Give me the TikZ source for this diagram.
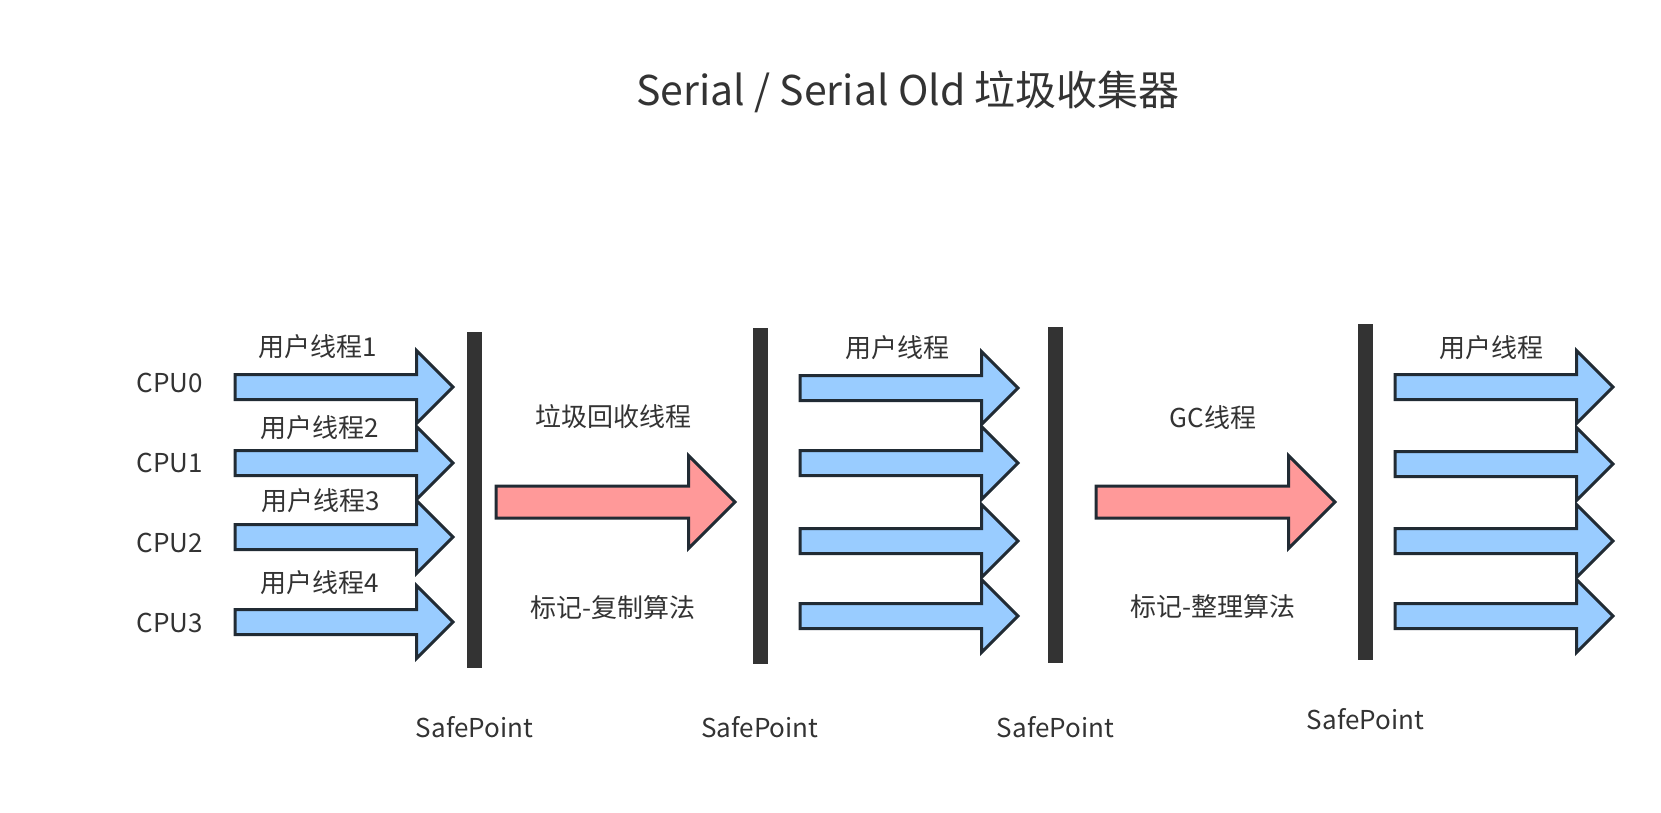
\documentclass[tikz,border=0pt]{standalone}
\usepackage{fontspec}
\setmainfont{Noto Sans CJK SC}
\usetikzlibrary{positioning,shapes.arrows}
\definecolor{threadblue}{HTML}{99CCFF}
\definecolor{gcred}{HTML}{FF9999}
\definecolor{rim}{HTML}{212B34}
\definecolor{ink}{HTML}{333333}
\tikzset{
  thread/.style={single arrow, draw=rim, fill=threadblue, line width=1.5pt,
    inner xsep=0pt, inner ysep=5.5pt, minimum height=109pt, single arrow head extend=12pt,
    single arrow head indent=0pt, anchor=tail},
  gcthread/.style={thread, fill=gcred, minimum height=119.5pt, inner ysep=7.25pt,
    single arrow head extend=15.25pt},
  spbar/.style={fill=ink, minimum width=7.5pt, minimum height=168pt, inner sep=0pt},
  lbl/.style={text=ink, font=\fontsize{13pt}{15pt}\selectfont, inner sep=0pt},
}

\begin{document}
\begin{tikzpicture}[x=0.5pt, y=-0.5pt, node distance=24pt]
  \useasboundingbox (0,0) rectangle (1661,813);
  \node[lbl, font=\fontsize{20.5pt}{24pt}\selectfont] (title) at (908,92) {Serial / Serial Old 垃圾收集器};

  % safepoints
  \node[spbar] (sp1) at (474.5,500) {};
  \node[spbar] (sp2) at (760,495.5) {};
  \node[spbar] (sp3) at (1055.5,494.5) {};
  \node[spbar] (sp4) at (1365.5,491.5) {};
  \node[lbl, below=of sp1] (spl1) {SafePoint};
  \node[lbl, below=26pt of sp2] (spl2) {SafePoint};
  \node[lbl, below=26.5pt of sp3] (spl3) {SafePoint};
  \node[lbl, below=of sp4] (spl4) {SafePoint};

  % user threads before GC
  \node[thread] (ut0) at (233.5,387) {};
  \node[thread] (ut1) at (233.5,463) {};
  \node[thread] (ut2) at (233.5,537) {};
  \node[thread] (ut3) at (233.5,622) {};
  \node[lbl] (cpu0) at (170,383) {CPU0};
  \node[lbl] (cpu1) at (170,463) {CPU1};
  \node[lbl] (cpu2) at (170,543) {CPU2};
  \node[lbl] (cpu3) at (170,623) {CPU3};
  \node[lbl] (utl0) at (318,347) {用户线程1};
  \node[lbl] (utl1) at (320,428) {用户线程2};
  \node[lbl] (utl2) at (321,501) {用户线程3};
  \node[lbl] (utl3) at (320,583) {用户线程4};

  % young gen collection
  \node[gcthread] (gc1) at (494.5,502) {};
  \node[lbl] (gcl1) at (613,417) {垃圾回收线程};
  \node[lbl] (alg1) at (613,608) {标记-复制算法};

  % user threads between
  \node[thread] (mt0) at (798.5,388) {};
  \node[thread] (mt1) at (798.5,463) {};
  \node[thread] (mt2) at (798.5,541) {};
  \node[thread] (mt3) at (798.5,616) {};
  \node[lbl] (mtl) at (897,348) {用户线程};

  % old gen collection
  \node[gcthread] (gc2) at (1094.5,502) {};
  \node[lbl] (gcl2) at (1213,418) {GC线程};
  \node[lbl] (alg2) at (1213,607) {标记-整理算法};

  % user threads after GC
  \node[thread] (rt0) at (1393.5,387) {};
  \node[thread] (rt1) at (1393.5,464) {};
  \node[thread] (rt2) at (1393.5,541) {};
  \node[thread] (rt3) at (1393.5,616) {};
  \node[lbl] (rtl) at (1491,348) {用户线程};
\end{tikzpicture}
\end{document}
